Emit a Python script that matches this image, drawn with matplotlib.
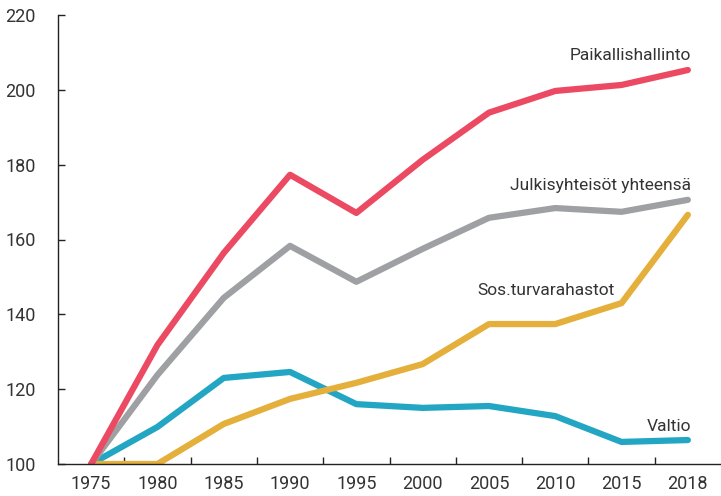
import numpy as np
import matplotlib
matplotlib.use('Agg')
import matplotlib.pyplot as plt
from matplotlib.ticker import FixedLocator

years = ['1975', '1980', '1985', '1990', '1995', '2000', '2005', '2010', '2015', '2018']
paikallis = [100, 131.8, 156.4, 177.3, 167.1, 181.3, 193.9, 199.7, 201.3, 205.3]
julkis = [100, 123.8, 144.4, 158.3, 148.7, 157.5, 165.8, 168.4, 167.4, 170.6]
sostur = [100, 100, 110.7, 117.4, 121.7, 126.7, 137.4, 137.4, 143.0, 166.6]
valtio = [100, 109.9, 123.0, 124.6, 116.0, 115.0, 115.5, 112.8, 105.9, 106.4]

plt.rcParams['font.family'] = ['Roboto', 'DejaVu Sans']
txt = '#333333'

fig = plt.figure(figsize=(7.21, 4.96), dpi=100)
ax = fig.add_axes([58 / 721, 1 - 464 / 496, 1 - 58 / 721, (464 - 15) / 496])

x = np.arange(len(years))
lw = 4.5
ax.plot(x, valtio, color='#22A6C3', lw=lw, solid_capstyle='round', solid_joinstyle='round')
ax.plot(x, sostur, color='#E4AF3A', lw=lw, solid_capstyle='round', solid_joinstyle='round')
ax.plot(x, julkis, color='#9EA0A3', lw=lw, solid_capstyle='round', solid_joinstyle='round')
ax.plot(x, paikallis, color='#EC4A62', lw=lw, solid_capstyle='round', solid_joinstyle='round')

ax.set_xlim(-0.5, len(years) - 0.5)
ax.set_ylim(100, 220)
ax.set_yticks(np.arange(100, 221, 20))
ax.set_xticks(x)
ax.set_xticklabels(years)
ax.xaxis.set_minor_locator(FixedLocator(x[:-1] + 0.5))

ax.tick_params(axis='x', which='major', length=0, pad=8, labelsize=13, labelcolor=txt)
ax.tick_params(axis='x', which='minor', direction='in', length=5, width=1, color='#222222')
ax.tick_params(axis='y', direction='in', length=5, width=1, pad=16, labelsize=13,
               labelcolor=txt, color='#222222')

for s in ['top', 'right']:
    ax.spines[s].set_visible(False)
for s in ['left', 'bottom']:
    ax.spines[s].set_color('#222222')
    ax.spines[s].set_linewidth(1)

fs = 12.5
ax.text(9.05, 209.3, 'Paikallishallinto', ha='right', va='center', fontsize=fs, color=txt)
ax.text(9.05, 174.5, 'Julkisyhteisöt yhteensä', ha='right', va='center', fontsize=fs, color=txt)
ax.text(7.9, 146.3, 'Sos.turvarahastot', ha='right', va='center', fontsize=fs, color=txt)
ax.text(9.05, 110.0, 'Valtio', ha='right', va='center', fontsize=fs, color=txt)

fig.savefig('out.png', dpi=100)
